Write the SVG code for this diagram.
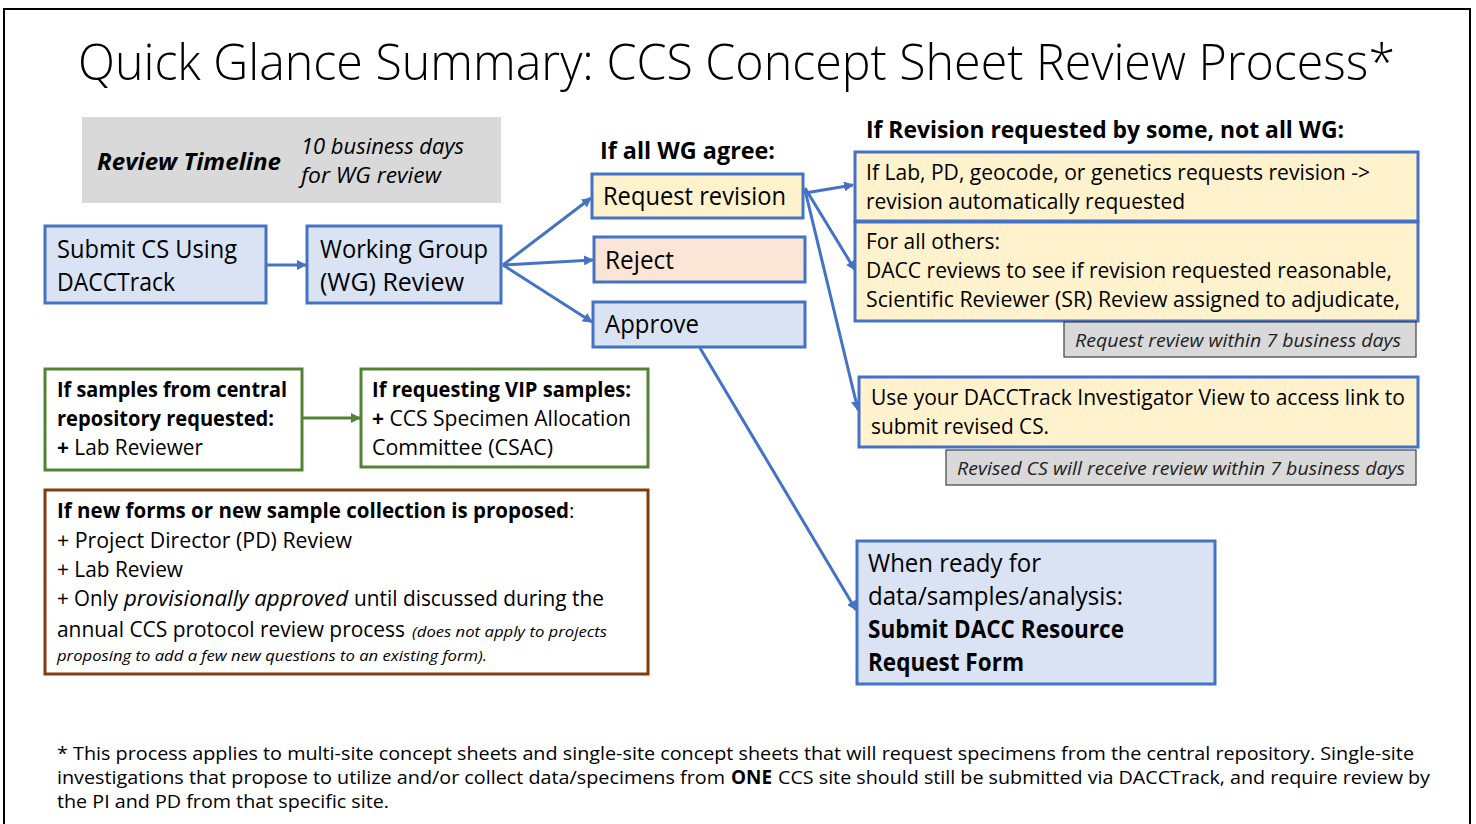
<svg xmlns="http://www.w3.org/2000/svg" width="1476" height="824" viewBox="0 0 1476 824">
<defs>
<style>
text{font-family:"Open Sans","Noto Sans",sans-serif;fill:#000}
.t{font-size:25px}
.s{font-size:21px}
.g{font-size:18.5px;font-style:italic;fill:#222}
.f{font-size:19px}
.b{font-weight:bold}
.i{font-style:italic}
.blue{fill:#dae3f3;stroke:#4472c4;stroke-width:3}
.yel{fill:#fff2cc;stroke:#4472c4;stroke-width:3}
.pink{fill:#fbe5d6;stroke:#4472c4;stroke-width:3}
.grey{fill:#d9d9d9;stroke:#404040;stroke-width:1.2}
.green{fill:#fff;stroke:#548235;stroke-width:3}
.brown{fill:#fff;stroke:#843c0c;stroke-width:3}
.c{stroke:#4472c4;stroke-width:3;fill:none;marker-end:url(#ab)}
.cg{stroke:#548235;stroke-width:3;fill:none;marker-end:url(#ag)}
</style>
<marker id="ab" viewBox="0 0 10 10" refX="9" refY="5" markerWidth="10" markerHeight="10" markerUnits="userSpaceOnUse" orient="auto"><path d="M0,0 L10,5 L0,10 Z" fill="#4472c4"/></marker>
<marker id="ag" viewBox="0 0 10 10" refX="9" refY="5" markerWidth="10" markerHeight="10" markerUnits="userSpaceOnUse" orient="auto"><path d="M0,0 L10,5 L0,10 Z" fill="#548235"/></marker>
</defs>
<rect x="0" y="0" width="1476" height="824" fill="#fff"/>
<rect x="4" y="9" width="1466" height="830" fill="none" stroke="#000" stroke-width="2"/>

<text x="78" y="80" style="font-size:50px;font-weight:300" textLength="1317" lengthAdjust="spacingAndGlyphs">Quick Glance Summary: CCS Concept Sheet Review Process*</text>

<g id="timeline">
<rect x="82" y="117" width="419" height="86" fill="#d9d9d9"/>
<text x="97" y="170" class="b i" style="font-size:23px" textLength="184" lengthAdjust="spacingAndGlyphs">Review Timeline</text>
<text x="301" y="154" class="i" style="font-size:22px" textLength="163" lengthAdjust="spacingAndGlyphs">10 business days</text>
<text x="301" y="183" class="i" style="font-size:22px" textLength="140" lengthAdjust="spacingAndGlyphs">for WG review</text>
</g>

<g id="connectors">
<line class="c" x1="266" y1="265" x2="306" y2="265"/>
<line class="c" x1="503" y1="265" x2="591" y2="198"/>
<line class="c" x1="503" y1="265" x2="593" y2="260"/>
<line class="c" x1="503" y1="265" x2="592" y2="322"/>
<line class="c" x1="805" y1="193" x2="853" y2="185"/>
<line class="c" x1="805" y1="188" x2="855" y2="270"/>
<line class="c" x1="805" y1="190" x2="858" y2="410"/>
<line class="c" x1="700" y1="348" x2="856" y2="610"/>
<line class="cg" x1="302" y1="418" x2="360" y2="418"/>
</g>

<g id="submit">
<rect class="blue" x="45" y="226" width="221" height="77"/>
<text x="57" y="258" class="t" textLength="180" lengthAdjust="spacingAndGlyphs">Submit CS Using</text>
<text x="57" y="291" class="t" textLength="118" lengthAdjust="spacingAndGlyphs">DACCTrack</text>
</g>

<g id="wgreview">
<rect class="blue" x="307" y="226" width="194" height="77"/>
<text x="320" y="258" class="t" textLength="168" lengthAdjust="spacingAndGlyphs">Working Group</text>
<text x="320" y="291" class="t" textLength="144" lengthAdjust="spacingAndGlyphs">(WG) Review</text>
</g>

<g id="allagree">
<text x="600" y="159" class="b" style="font-size:23px" textLength="175" lengthAdjust="spacingAndGlyphs">If all WG agree:</text>
</g>

<g id="reqrev">
<rect class="yel" x="592" y="174" width="211" height="44"/>
<text x="603" y="205" class="t" textLength="183" lengthAdjust="spacingAndGlyphs">Request revision</text>
</g>
<g id="reject">
<rect class="pink" x="594" y="237" width="211" height="45"/>
<text x="605" y="269" class="t" textLength="69" lengthAdjust="spacingAndGlyphs">Reject</text>
</g>
<g id="approve">
<rect class="blue" x="593" y="302" width="212" height="45"/>
<text x="605" y="333" class="t" textLength="94" lengthAdjust="spacingAndGlyphs">Approve</text>
</g>

<g id="somewg">
<text x="866" y="138" class="b" style="font-size:22.5px" textLength="478" lengthAdjust="spacingAndGlyphs">If Revision requested by some, not all WG:</text>
</g>

<g id="labpd">
<rect class="yel" x="855" y="152" width="563" height="69"/>
<text x="866" y="180" class="s" textLength="504" lengthAdjust="spacingAndGlyphs">If Lab, PD, geocode, or genetics requests revision -&gt;</text>
<text x="866" y="209" class="s" textLength="319" lengthAdjust="spacingAndGlyphs">revision automatically requested</text>
</g>

<g id="others">
<rect class="yel" x="855" y="222" width="563" height="99"/>
<text x="866" y="249" class="s" textLength="134" lengthAdjust="spacingAndGlyphs">For all others:</text>
<text x="866" y="278" class="s" textLength="526" lengthAdjust="spacingAndGlyphs">DACC reviews to see if revision requested reasonable,</text>
<text x="866" y="307" class="s" textLength="534" lengthAdjust="spacingAndGlyphs">Scientific Reviewer (SR) Review assigned to adjudicate,</text>
</g>

<g id="reqreview7">
<rect class="grey" x="1064" y="322" width="352" height="35"/>
<text x="1075" y="347" class="g" textLength="326" lengthAdjust="spacingAndGlyphs">Request review within 7 business days</text>
</g>

<g id="usedacc">
<rect class="yel" x="859" y="377" width="559" height="70"/>
<text x="871" y="405" class="s" textLength="534" lengthAdjust="spacingAndGlyphs">Use your DACCTrack Investigator View to access link to</text>
<text x="871" y="434" class="s" textLength="178" lengthAdjust="spacingAndGlyphs">submit revised CS.</text>
</g>

<g id="revised7">
<rect class="grey" x="946" y="450" width="470" height="35"/>
<text x="957" y="475" class="g" textLength="448" lengthAdjust="spacingAndGlyphs">Revised CS will receive review within 7 business days</text>
</g>

<g id="whenready">
<rect class="blue" x="857" y="541" width="358" height="143"/>
<text x="868" y="572" class="t" textLength="173" lengthAdjust="spacingAndGlyphs">When ready for</text>
<text x="868" y="605" class="t" textLength="255" lengthAdjust="spacingAndGlyphs">data/samples/analysis:</text>
<text x="868" y="638" class="t b" textLength="256" lengthAdjust="spacingAndGlyphs">Submit DACC Resource</text>
<text x="868" y="671" class="t b" textLength="156" lengthAdjust="spacingAndGlyphs">Request Form</text>
</g>

<g id="central">
<rect class="green" x="45" y="369" width="257" height="101"/>
<text x="57" y="397" class="s b" textLength="230" lengthAdjust="spacingAndGlyphs">If samples from central</text>
<text x="57" y="426" class="s b" textLength="217" lengthAdjust="spacingAndGlyphs">repository requested:</text>
<text x="57" y="455" class="s" textLength="146" lengthAdjust="spacingAndGlyphs"><tspan class="b">+</tspan> Lab Reviewer</text>
</g>

<g id="vip">
<rect class="green" x="361" y="369" width="287" height="98"/>
<text x="372" y="397" class="s b" textLength="259" lengthAdjust="spacingAndGlyphs">If requesting VIP samples:</text>
<text x="372" y="426" class="s" textLength="259" lengthAdjust="spacingAndGlyphs"><tspan class="b">+</tspan> CCS Specimen Allocation</text>
<text x="372" y="455" class="s" textLength="181" lengthAdjust="spacingAndGlyphs">Committee (CSAC)</text>
</g>

<g id="newforms">
<rect class="brown" x="45" y="490" width="603" height="184"/>
<text x="57" y="518" style="font-size:20.5px"><tspan class="b">If new forms or new sample collection is proposed</tspan>:</text>
<text x="57" y="548" class="s" textLength="295" lengthAdjust="spacingAndGlyphs">+ Project Director (PD) Review</text>
<text x="57" y="577" class="s" textLength="126" lengthAdjust="spacingAndGlyphs">+ Lab Review</text>
<text x="57" y="606" class="s" textLength="61" lengthAdjust="spacingAndGlyphs">+ Only</text>
<text x="124" y="606" class="s i" textLength="224" lengthAdjust="spacingAndGlyphs">provisionally approved</text>
<text x="354" y="606" class="s" textLength="250" lengthAdjust="spacingAndGlyphs">until discussed during the</text>
<text x="57" y="637" class="s" textLength="348" lengthAdjust="spacingAndGlyphs">annual CCS protocol review process</text>
<text x="412" y="637" class="i" style="font-size:15px" textLength="195" lengthAdjust="spacingAndGlyphs">(does not apply to projects</text>
<text x="57" y="661" class="i" style="font-size:15px" textLength="430" lengthAdjust="spacingAndGlyphs">proposing to add a few new questions to an existing form).</text>
</g>

<g id="footnote">
<text x="57" y="760" class="f" textLength="1357" lengthAdjust="spacingAndGlyphs">* This process applies to multi-site concept sheets and single-site concept sheets that will request specimens from the central repository. Single-site</text>
<text x="57" y="784" class="f" textLength="668" lengthAdjust="spacingAndGlyphs">investigations that propose to utilize and/or collect data/specimens from</text>
<text x="731" y="784" class="f b" textLength="41" lengthAdjust="spacingAndGlyphs">ONE</text>
<text x="778" y="784" class="f" textLength="652" lengthAdjust="spacingAndGlyphs">CCS site should still be submitted via DACCTrack, and require review by</text>
<text x="57" y="808" class="f" textLength="332" lengthAdjust="spacingAndGlyphs">the PI and PD from that specific site.</text>
</g>
</svg>
